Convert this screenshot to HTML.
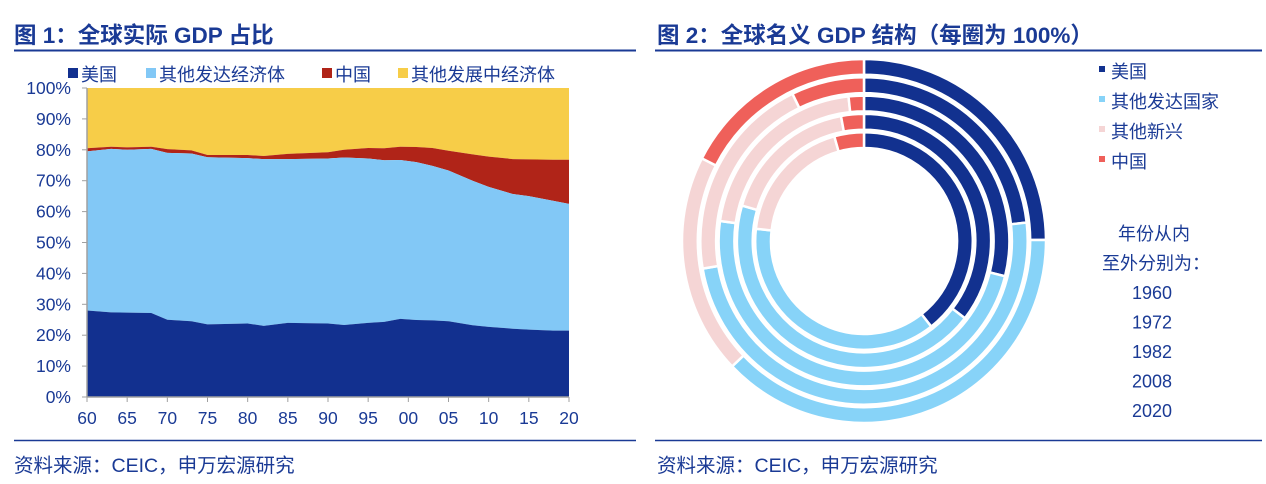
<!DOCTYPE html>
<html><head><meta charset="utf-8"><style>
body{margin:0;width:1266px;height:484px;background:#fff;overflow:hidden;font-family:"Liberation Sans","Noto Sans CJK SC",sans-serif;}
svg{position:absolute;left:0;top:0}
</style></head><body>
<svg width="1266" height="484" id="svg" font-family="Liberation Sans, Noto Sans CJK SC, sans-serif">
<text x="14" y="43" font-size="22.5" font-weight="bold" fill="#1a3a95">图 1：全球实际 GDP 占比</text>
<text x="657" y="43" font-size="22.5" font-weight="bold" fill="#1a3a95">图 2：全球名义 GDP 结构（每圈为 100%）</text>
<line x1="14" y1="50.5" x2="636" y2="50.5" stroke="#1a3a95" stroke-width="2"/>
<line x1="655" y1="50.5" x2="1262" y2="50.5" stroke="#1a3a95" stroke-width="2"/>
<line x1="14" y1="440.5" x2="636" y2="440.5" stroke="#1a3a95" stroke-width="1.5"/>
<line x1="655" y1="440.5" x2="1262" y2="440.5" stroke="#1a3a95" stroke-width="1.5"/>
<text x="14" y="472" font-size="19.5" fill="#1a3a95">资料来源：CEIC，申万宏源研究</text>
<text x="657" y="472" font-size="19.5" fill="#1a3a95">资料来源：CEIC，申万宏源研究</text>
<g id="area"></g>
<g id="donut"></g>
<g id="leg2"></g>
</svg>
<script>
const years=[1960,1963,1965,1968,1970,1973,1975,1980,1982,1985,1990,1992,1995,1997,1999,2001,2003,2005,2008,2010,2013,2015,2018,2020];
const usShare=[28,27.4,27.3,27.2,25,24.5,23.5,23.8,23,24,23.8,23.3,24,24.3,25.3,24.9,24.8,24.5,23.2,22.7,22.1,21.8,21.5,21.5];
const devShare=[51.5,52.9,52.7,53.1,54,54.3,54.1,53.5,54,53,53.4,54.2,53.2,52.3,51.4,51.1,50,48.8,46.8,45.3,43.6,43.2,42,41];
const chinaShare=[1,0.7,0.8,0.7,1.2,1,0.7,1,1,1.7,2,2.5,3.4,3.9,4.3,4.9,5.8,6.4,8.5,9.8,11.3,11.9,13.3,14.3];
const xTicks=["60","65","70","75","80","85","90","95","00","05","10","15","20"];
const yTicks=["0%","10%","20%","30%","40%","50%","60%","70%","80%","90%","100%"];
const ringYears=["1960","1972","1982","2008","2020"];
const ringUS=[39.4,35.4,28.9,23.2,24.9];
const ringDev=[37.4,44.1,48.3,49.1,38.0];
const ringEm=[18.8,17.6,21.1,20.5,19.6];
const ringCN=[4.4,2.9,1.7,7.2,17.5];
const NS='http://www.w3.org/2000/svg';
function mk(t,a,p){const e=document.createElementNS(NS,t);for(const k in a)e.setAttribute(k,a[k]);p.appendChild(e);return e;}
const TXT='#1a3a95';
const L=87,R=569,T=88,B=397;
const xS=y=>L+(y-1960)/60*(R-L);
const yS=v=>B-v/100*(B-T);
const g=document.getElementById('area');
function band(lo,hi,color,name){
  let d='M'+years.map((y,i)=>xS(y)+','+yS(hi[i])).join('L');
  for(let i=years.length-1;i>=0;i--)d+='L'+xS(years[i])+','+yS(lo[i]);
  const p=mk('path',{d:d+'Z',fill:color},g);
  
  
}
const c0=years.map(()=>0),c1=usShare.slice(),c2=c1.map((v,i)=>v+devShare[i]),c3=c2.map((v,i)=>v+chinaShare[i]),c4=years.map(()=>100);
band(c3,c4,'#f7cd48','area-other-emerging');
band(c2,c3,'#b02418','area-china');
band(c1,c2,'#82c8f6','area-other-developed');
band(c0,c1,'#12308f','area-us');
let ax=mk('line',{x1:L,y1:T,x2:L,y2:B,stroke:'#a0a0a0','stroke-width':1.5},g);

ax=mk('line',{x1:L,y1:B,x2:R,y2:B,stroke:'#a0a0a0','stroke-width':1.5},g);

yTicks.forEach((t,i)=>{const v=i*10;
  mk('line',{x1:L-5,y1:yS(v),x2:L,y2:yS(v),stroke:'#a0a0a0'},g);
  const e=mk('text',{x:L-16,y:yS(v)+6,'text-anchor':'end','font-size':17.5,fill:TXT},g);e.textContent=t;
  });
xTicks.forEach((t,i)=>{const x=xS(1960+i*5);
  mk('line',{x1:x,y1:B,x2:x,y2:B+5,stroke:'#a0a0a0'},g);
  const e=mk('text',{x:x,y:424,'text-anchor':'middle','font-size':17.5,fill:TXT},g);e.textContent=t;
  });
const leg=[['美国','#12308f',68],['其他发达经济体','#82c8f6',146],['中国','#b02418',322],['其他发展中经济体','#f7cd48',398]];
leg.forEach(([t,c,x])=>{const gg=mk('g',{},g);
  mk('rect',{x:x,y:68,width:10,height:10,fill:c},gg);
  const e=mk('text',{x:x+13,y:81,'font-size':18,fill:TXT},gg);e.textContent=t;});
const dg=document.getElementById('donut');const cx=864,cy=241;
const cols=['#12318f','#87d3f8','#f5d5d5','#ef605a'];const segN=['us','other-developed','other-emerging','china'];
function arc(r0,r1,a0,a1){const f=a=>[Math.sin(a),-Math.cos(a)];const [s0x,s0y]=f(a0),[s1x,s1y]=f(a1);const lg=(a1-a0)>Math.PI?1:0;
  return `M${cx+r1*s0x},${cy+r1*s0y}A${r1},${r1} 0 ${lg} 1 ${cx+r1*s1x},${cy+r1*s1y}L${cx+r0*s1x},${cy+r0*s1y}A${r0},${r0} 0 ${lg} 0 ${cx+r0*s0x},${cy+r0*s0y}Z`;}
ringYears.forEach((yr,i)=>{const r0=93+18.3*i,r1=r0+15.8;const vals=[ringUS[i],ringDev[i],ringEm[i],ringCN[i]];
  const tot=vals.reduce((a,b)=>a+b,0);let acc=0;
  vals.forEach((v,j)=>{const a0=acc/tot*2*Math.PI;acc+=v;const a1=acc/tot*2*Math.PI;
    const p=mk('path',{d:arc(r0,r1,a0,a1),fill:cols[j],stroke:'#fff','stroke-width':2.5},dg);
    });});
const lg2=document.getElementById('leg2');
[['美国',cols[0]],['其他发达国家',cols[1]],['其他新兴',cols[2]],['中国',cols[3]]].forEach(([t,c],i)=>{
  const gg=mk('g',{},lg2);
  mk('rect',{x:1099,y:66+i*30,width:6,height:6,fill:c},gg);
  const e=mk('text',{x:1111,y:78+i*30,'font-size':18,fill:TXT},gg);e.textContent=t;});
['年份从内','至外分别为：'].concat(ringYears).forEach((t,i)=>{
  const e=mk('text',{x:i==1?1102:(i==0?1118:1132),y:240+i*29.5,'font-size':18,fill:TXT},lg2);e.textContent=t;
  });
</script>
</body></html>
